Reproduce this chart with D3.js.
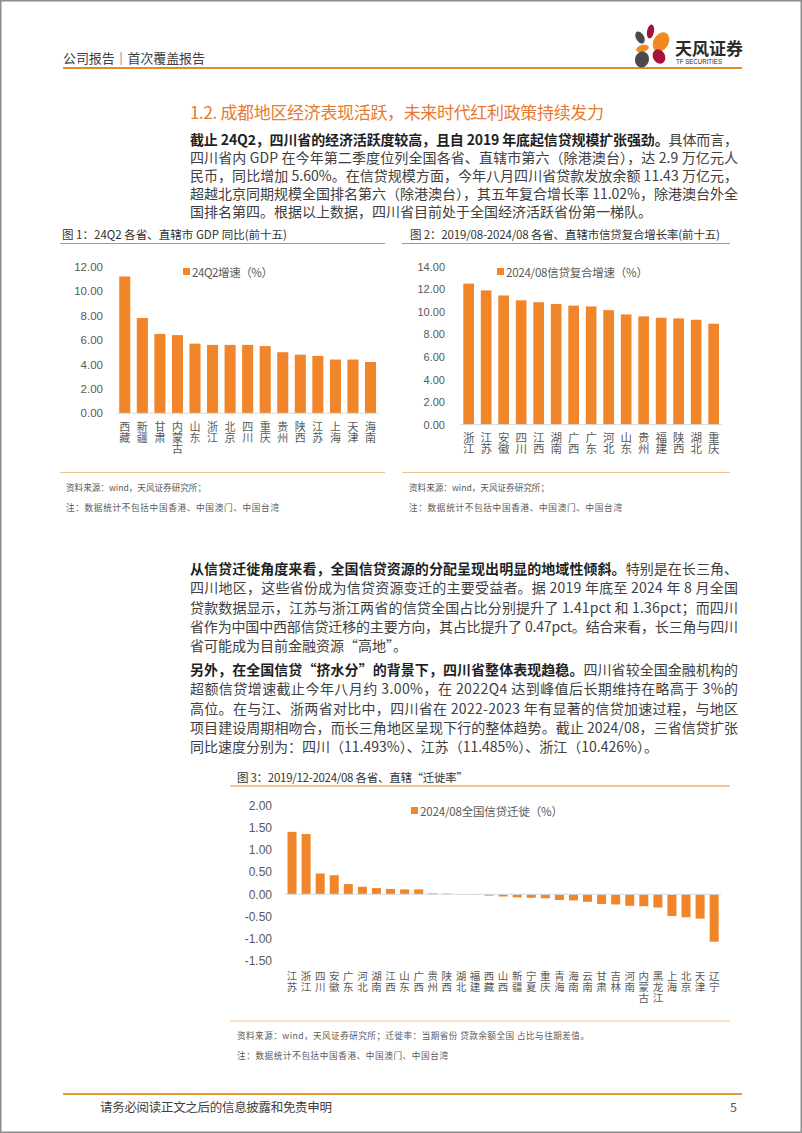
<!DOCTYPE html>
<html><head><meta charset="utf-8">
<script src="https://cdn.jsdelivr.net/npm/d3@7"></script>
<style>
body{margin:0;background:#fff}
svg{display:block}
text{font-family:"Noto Sans CJK SC","Liberation Sans",sans-serif}
.vlab{writing-mode:vertical-rl;text-orientation:upright}
</style></head>
<body><svg id="page" width="802" height="1133"></svg>
<script>
// ---------- DATA ----------
const gdpCategories = ["西藏","新疆","甘肃","内蒙古","山东","浙江","北京","四川","重庆","贵州","陕西","江苏","上海","天津","海南"];
const gdpValues = [11.2,7.8,6.5,6.4,5.7,5.6,5.6,5.6,5.5,5.0,4.8,4.7,4.4,4.4,4.2];
const gdpTicks = [0,2,4,6,8,10,12];
const gdpLegend = "24Q2增速（%）";

const creditCategories = ["浙江","江苏","安徽","四川","江西","湖南","广西","广东","河北","山东","贵州","福建","陕西","湖北","重庆"];
const creditValues = [12.5,11.9,11.45,11.02,10.85,10.7,10.55,10.48,10.15,9.77,9.6,9.48,9.42,9.3,8.95];
const creditTicks = [0,2,4,6,8,10,12,14];
const creditLegend = "2024/08信贷复合增速（%）";

const migCategories = ["江苏","浙江","四川","安徽","广东","河北","湖南","江西","山东","广西","贵州","陕西","湖北","福建","西藏","山西","新疆","宁夏","重庆","青海","海南","云南","甘肃","吉林","河南","内蒙古","黑龙江","上海","北京","天津","辽宁"];
const migValues = [1.41,1.36,0.47,0.43,0.23,0.17,0.14,0.12,0.11,0.11,0.02,0.015,0.005,-0.01,-0.03,-0.05,-0.07,-0.08,-0.09,-0.13,-0.14,-0.17,-0.22,-0.23,-0.26,-0.27,-0.30,-0.49,-0.52,-0.55,-1.07];
const migTicks = [-1.5,-1,-0.5,0,0.5,1,1.5,2];
const migLegend = "2024/08全国信贷迁徙（%）";

// ---------- STYLE ----------
const BAR = "#F0852A";
const ORANGE_LINE = "#E8892C";
const LIGHT_LINE = "#F3C08E";
const AXIS = "#D3DCE6";
const GREY = "#595959";
const DARK = "#333333";

const svg = d3.select("#page");

svg.append("rect").attr("x",0.75).attr("y",0.75).attr("width",800.5).attr("height",1131.5)
  .attr("fill","#fff").attr("stroke","#8c8c8c").attr("stroke-width",1.5);

function fitWidth(t,w){
  const n = t.text().length;
  const nat = t.node().getComputedTextLength();
  t.attr("letter-spacing",(w-nat)/Math.max(1,n-1));
  return t;
}
function txt(x,y,s,o={}){
  const t = svg.append("text").attr("x",x).attr("y",y).text(s)
    .attr("dominant-baseline","central")
    .attr("font-size",o.size||12).attr("fill",o.fill||DARK)
    .attr("font-weight",o.weight||"normal")
    .attr("text-anchor",o.anchor||"start");
  if(o.family) t.style("font-family",o.family);
  if(o.w) fitWidth(t,o.w);
  return t;
}

// ---------- HEADER ----------
txt(63,57.5,"公司报告｜首次覆盖报告",{size:13,fill:"#404040",w:142});
svg.append("line").attr("x1",63).attr("x2",742).attr("y1",68).attr("y2",68)
  .attr("stroke",ORANGE_LINE).attr("stroke-width",2);
const petals = [
  {cx:640,cy:37.5,rx:4,ry:6.5,r:-30,c:"#4a4a4a"},
  {cx:650.5,cy:31.5,rx:3.5,ry:7,r:10,c:"#A5123B"},
  {cx:661,cy:42,rx:7.5,ry:10.5,r:30,c:"#F08A1E"},
  {cx:642.5,cy:48.5,rx:6.5,ry:3.5,r:-15,c:"#F08A1E"},
  {cx:659,cy:56.5,rx:6,ry:7.5,r:-30,c:"#A5123B"},
  {cx:642,cy:59.5,rx:7,ry:8,r:15,c:"#4a4a4a"}
];
svg.append("g").selectAll("ellipse").data(petals).join("ellipse")
  .attr("cx",d=>d.cx).attr("cy",d=>d.cy).attr("rx",d=>d.rx).attr("ry",d=>d.ry)
  .attr("transform",d=>`rotate(${d.r},${d.cx},${d.cy})`).attr("fill",d=>d.c);
txt(675,47.5,"天风证券",{size:17,weight:"bold",fill:"#2b2b2b",w:68});
txt(676,61.5,"TF SECURITIES",{size:6.5,fill:"#2b2b2b",family:'"Liberation Sans Narrow","Liberation Sans",sans-serif'})
  .attr("textLength",46).attr("lengthAdjust","spacingAndGlyphs");

// ---------- SECTION TITLE ----------
txt(190,111,"1.2. 成都地区经济表现活跃，未来时代红利政策持续发力",{size:17,fill:"#E8792E",w:414});

// ---------- PARAGRAPHS ----------
function para(lines,x0,y0,step,width){
  lines.forEach((segs,i)=>{
    const t = svg.append("text").attr("x",x0).attr("y",y0+i*step)
      .attr("dominant-baseline","central").attr("font-size",14);
    segs.forEach(s=>{
      t.append("tspan").text(s[0]).attr("font-weight",s[1]?"bold":"normal")
        .attr("fill",s[1]?"#1f1f1f":"#404040");
    });
    if(i<lines.length-1) fitWidth(t,width);
  });
}
para([
  [["截止 24Q2，四川省的经济活跃度较高，且自 2019 年底起信贷规模扩张强劲。",1],["具体而言，",0]],
  [["四川省内 GDP 在今年第二季度位列全国各省、直辖市第六（除港澳台），达 2.9 万亿元人",0]],
  [["民币，同比增加 5.60%。在信贷规模方面，今年八月四川省贷款发放余额 11.43 万亿元，",0]],
  [["超越北京同期规模全国排名第六（除港澳台），其五年复合增长率 11.02%，除港澳台外全",0]],
  [["国排名第四。根据以上数据，四川省目前处于全国经济活跃省份第一梯队。",0]]
],190,139,18,548);

para([
  [["从信贷迁徙角度来看，全国信贷资源的分配呈现出明显的地域性倾斜。",1],["特别是在长三角、",0]],
  [["四川地区，这些省份成为信贷资源变迁的主要受益者。据 2019 年底至 2024 年 8 月全国",0]],
  [["贷款数据显示，江苏与浙江两省的信贷全国占比分别提升了 1.41pct 和 1.36pct；而四川",0]],
  [["省作为中国中西部信贷迁移的主要方向，其占比提升了 0.47pct。结合来看，长三角与四川",0]],
  [["省可能成为目前金融资源“高地”。",0]]
],190,568,19.25,548);

para([
  [["另外，在全国信贷“挤水分”的背景下，四川省整体表现趋稳。",1],["四川省较全国金融机构的",0]],
  [["超额信贷增速截止今年八月约 3.00%，在 2022Q4 达到峰值后长期维持在略高于 3%的",0]],
  [["高位。在与江、浙两省对比中，四川省在 2022-2023 年有显著的信贷加速过程，与地区",0]],
  [["项目建设周期相吻合，而长三角地区呈现下行的整体趋势。截止 2024/08，三省信贷扩张",0]],
  [["同比速度分别为：四川（11.493%）、江苏（11.485%）、浙江（10.426%）。",0]]
],190,669,19.25,548);

// ---------- CHART HELPERS ----------
function figFrame(f){
  txt(f.tx,f.ty,f.title,{size:11.5,fill:DARK,w:f.tw});
  svg.append("line").attr("x1",f.lx0).attr("x2",f.lx1).attr("y1",f.ly).attr("y2",f.ly)
    .attr("stroke",ORANGE_LINE).attr("stroke-width",1.2);
  svg.append("line").attr("x1",f.lx0).attr("x2",f.lx1).attr("y1",f.sepY).attr("y2",f.sepY)
    .attr("stroke",LIGHT_LINE).attr("stroke-width",1);
  txt(f.sx,f.sy,f.src1,{size:8.6,fill:GREY,w:f.sw1});
  txt(f.sx,f.sy+20,f.src2,{size:8.6,fill:GREY,w:f.sw2});
}

function barChart(c){
  const x = d3.scaleBand().domain(c.cats).range([c.x0,c.x1])
    .paddingInner(c.pad).paddingOuter(c.pad/2);
  const y = d3.scaleLinear().domain(c.domain).range(c.yRange);
  const g = svg.append("g");
  const ax = d3.axisLeft(y).tickValues(c.ticks).tickSize(0).tickPadding(3)
    .tickFormat(d=>d.toFixed(2));
  const ag = g.append("g").attr("transform",`translate(${c.labelRight+3},0)`).call(ax);
  ag.select(".domain").remove();
  ag.selectAll("text").attr("font-size",c.tickSize).attr("fill",GREY)
    .style("font-family",'"Liberation Sans",sans-serif');
  g.append("g").selectAll("rect").data(c.vals).join("rect")
    .attr("x",(d,i)=>x(c.cats[i])).attr("width",x.bandwidth())
    .attr("y",d=>y(Math.max(0,d))).attr("height",d=>Math.abs(y(d)-y(0)))
    .attr("fill",BAR);
  g.append("line").attr("x1",c.x0).attr("x2",c.x1).attr("y1",y(0)).attr("y2",y(0))
    .attr("stroke",AXIS).attr("stroke-width",1);
  // vertical category labels
  g.append("g").selectAll("text").data(c.cats).join("text")
    .attr("class","vlab")
    .attr("x",d=>x(d)+x.bandwidth()/2)
    .attr("y",c.labTop - c.labFont/2)
    .attr("font-size",c.labFont).attr("fill",GREY)
    .attr("letter-spacing",c.labStep - c.labFont)
    .text(d=>d);
  g.append("rect").attr("x",c.legX).attr("y",c.legY-3.5).attr("width",7).attr("height",7).attr("fill",BAR);
  const lt = g.append("text").attr("x",c.legX+9).attr("y",c.legY).attr("dominant-baseline","central")
    .attr("font-size",c.legSize).attr("fill",GREY).text(c.legend);
  fitWidth(lt,c.legW);
}

const NOTE = "注：数据统计不包括中国香港、中国澳门、中国台湾";
// ---------- FIGURE 1 ----------
figFrame({title:"图 1：24Q2 各省、直辖市 GDP 同比(前十五)",tx:62,ty:233.5,tw:225,
  lx0:60,lx1:385,ly:243.5,sepY:472.5,sx:66,sy:487,
  src1:"资料来源：wind，天风证券研究所；",sw1:140,src2:NOTE,sw2:213});
barChart({cats:gdpCategories,vals:gdpValues,x0:116,x1:379.3,pad:0.37,
  domain:[0,12],yRange:[413.3,266.7],ticks:gdpTicks,labelRight:103,tickSize:11.5,
  labTop:427,labStep:11.1,labFont:11,legX:183,legY:271.5,legSize:11.5,legW:81,legend:gdpLegend});

// ---------- FIGURE 2 ----------
figFrame({title:"图 2：2019/08-2024/08 各省、直辖市信贷复合增长率(前十五)",tx:410,ty:233.5,tw:310,
  lx0:402,lx1:730,ly:243.5,sepY:472.5,sx:409,sy:487,
  src1:"资料来源：wind，天风证券研究所；",sw1:140,src2:NOTE,sw2:213});
barChart({cats:creditCategories,vals:creditValues,x0:459.9,x1:722.4,pad:0.39,
  domain:[0,14],yRange:[424.7,266.7],ticks:creditTicks,labelRight:445,tickSize:11,
  labTop:437.5,labStep:11.6,labFont:11.5,legX:497,legY:271.5,legSize:11.5,legW:142,legend:creditLegend});

// ---------- FIGURE 3 ----------
figFrame({title:"图 3：2019/12-2024/08 各省、直辖“迁徙率”",tx:237,ty:776.5,tw:231,
  lx0:230,lx1:730,ly:786,sepY:1021,sx:237,sy:1035,
  src1:"资料来源：wind，天风证券研究所；迁徙率：当期省份 贷款余额全国 占比与往期差值。",sw1:352,src2:NOTE,sw2:211});
barChart({cats:migCategories,vals:migValues,x0:285,x1:721.2,pad:0.36,
  domain:[-1.5,2],yRange:[960.7,805.7],ticks:migTicks,labelRight:272,tickSize:12,
  labTop:976,labStep:11.1,labFont:10.5,legX:411,legY:810.5,legSize:11.5,legW:143,legend:migLegend});

// ---------- FOOTER ----------
svg.append("line").attr("x1",63).attr("x2",742).attr("y1",1094).attr("y2",1094)
  .attr("stroke","#E59A2C").attr("stroke-width",2);
txt(100,1106,"请务必阅读正文之后的信息披露和免责申明",{size:12.5,fill:"#404040",w:232});
txt(737,1106,"5",{size:12.5,fill:"#595959",anchor:"end"});
</script>
</body></html>
